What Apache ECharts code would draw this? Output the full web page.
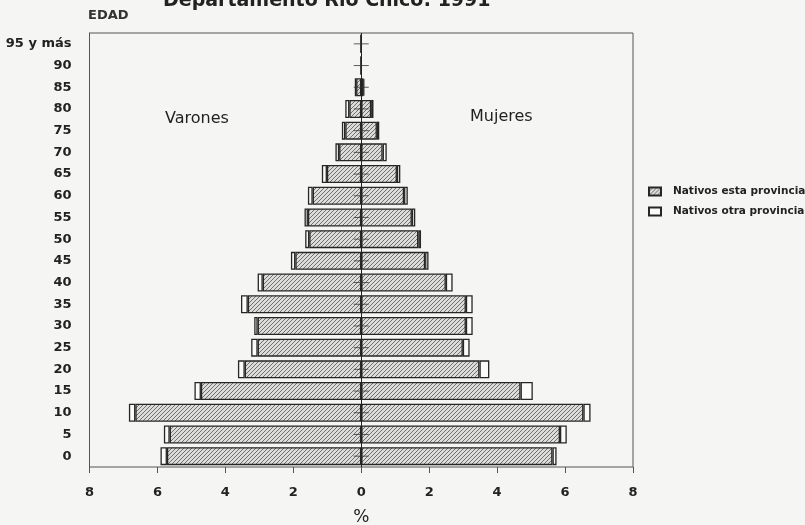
<!DOCTYPE html>
<html>
<head>
<meta charset="utf-8">
<script src="https://cdn.jsdelivr.net/npm/echarts@6/dist/echarts.min.js"></script>
<style>
  html, body { margin: 0; padding: 0; background: #f5f5f3; }
  #piramide { width: 805px; height: 525px; }
</style>
</head>
<body>
<div id="piramide"></div>
<script>
// grupos de edad (de abajo hacia arriba)
var edad = ['0', '5', '10', '15', '20', '25', '30', '35', '40', '45',
            '50', '55', '60', '65', '70', '75', '80', '85', '90', '95 y más'];
var varonesEsta = [5.72, 5.64, 6.65, 4.72, 3.43, 3.05, 3.05, 3.34, 2.90, 1.94,
                   1.53, 1.57, 1.43, 1.01, 0.65, 0.47, 0.35, 0.15, 0, 0];
var varonesOtra = [0.19, 0.17, 0.19, 0.19, 0.20, 0.19, 0.10, 0.20, 0.15, 0.13,
                   0.12, 0.10, 0.14, 0.15, 0.11, 0.10, 0.12, 0.04, 0, 0];
var mujeresEsta = [5.63, 5.85, 6.54, 4.69, 3.48, 2.99, 3.08, 3.08, 2.49, 1.88,
                   1.68, 1.49, 1.26, 1.05, 0.63, 0.46, 0.29, 0.06, 0, 0];
var mujeresOtra = [0.12, 0.20, 0.21, 0.36, 0.29, 0.20, 0.20, 0.20, 0.20, 0.10,
                   0.08, 0.10, 0.11, 0.10, 0.12, 0.07, 0.07, 0.03, 0, 0];

(function(){

    // rayado diagonal para "Nativos esta provincia"
    var c = document.createElement('canvas');
    c.width = 4; c.height = 4;
    var ctx = c.getContext('2d');
    ctx.fillStyle = '#dcdcda';
    ctx.fillRect(0, 0, 4, 4);
    ctx.strokeStyle = '#707070';
    ctx.lineWidth = 1;
    ctx.beginPath();
    ctx.moveTo(0, 4); ctx.lineTo(4, 0);
    ctx.moveTo(-1, 1); ctx.lineTo(1, -1);
    ctx.moveTo(3, 5); ctx.lineTo(5, 3);
    ctx.stroke();
    var rayado = { image: c, repeat: 'repeat' };

    var font = '"DejaVu Sans", Verdana, sans-serif';
    var borde = { borderColor: '#262626', borderWidth: 1.3 };

    var myChart = echarts.init(document.getElementById('piramide'));

    option = {
        backgroundColor: '#f5f5f3',
        textStyle: { fontFamily: font },
        animation: false,
        legend: {
            orient: 'vertical',
            left: 643,
            top: 181,
            icon: 'rect',
            itemWidth: 12,
            itemHeight: 8,
            itemGap: 9,
            textStyle: { fontSize: 10.5, fontWeight: 'bold', color: '#222', padding: [0, 0, 0, 7] },
            data: ['Nativos esta provincia', 'Nativos otra provincia']
        },
        grid: {
            left: 89.5,
            right: 172,
            top: 33,
            bottom: 58,
            outerBoundsMode: 'none',
            show: true,
            borderColor: '#555',
            borderWidth: 1
        },
        graphic: [
            { type: 'text', left: 163, top: -8,
              style: { text: 'Departamento Río Chico: 1991', font: 'bold 19px ' + font, fill: '#222' } },
            { type: 'text', left: 88, top: 9,
              style: { text: 'EDAD', font: 'bold 13px ' + font, fill: '#333' } },
            { type: 'text', left: 165, top: 111,
              style: { text: 'Varones', font: '16px ' + font, fill: '#222' } },
            { type: 'text', left: 470, top: 109,
              style: { text: 'Mujeres', font: '16px ' + font, fill: '#222' } }
        ],
        xAxis: {
            type: 'value',
            min: -8,
            max: 8,
            interval: 2,
            name: '%',
            nameLocation: 'middle',
            nameGap: 42,
            nameTextStyle: { fontSize: 17, color: '#222' },
            axisLine: { onZero: false, lineStyle: { color: '#555' } },
            axisTick: { show: true, length: 6, lineStyle: { color: '#555' } },
            splitLine: { show: false },
            axisLabel: {
                margin: 19,
                fontSize: 13,
                fontWeight: 'bold',
                color: '#222',
                formatter: function (v) { return Math.abs(v); }
            }
        },
        yAxis: {
            type: 'category',
            data: edad,
            axisLine: { onZero: false, lineStyle: { color: '#555' } },
            axisTick: { show: false },
            axisLabel: { margin: 18, fontSize: 13, fontWeight: 'bold', color: '#222' }
        },
        series: [
            {
                name: 'Nativos esta provincia',
                type: 'bar',
                stack: 'varones',
                barCategoryGap: '17%',
                barGap: '-100%',
                itemStyle: Object.assign({ color: rayado }, borde),
                data: varonesEsta.map(function (v) { return -v; }),
                markLine: {
                    silent: true,
                    symbol: 'none',
                    label: { show: false },
                    lineStyle: { color: '#222', type: 'solid', width: 1 },
                    data: [{ xAxis: 0 }]
                }
            },
            {
                name: 'Nativos otra provincia',
                type: 'bar',
                stack: 'varones',
                barCategoryGap: '17%',
                barGap: '-100%',
                itemStyle: Object.assign({ color: '#fbfbfa' }, borde),
                data: varonesOtra.map(function (v) { return -v; })
            },
            {
                name: 'Nativos esta provincia',
                type: 'bar',
                stack: 'mujeres',
                barCategoryGap: '17%',
                barGap: '-100%',
                itemStyle: Object.assign({ color: rayado }, borde),
                data: mujeresEsta
            },
            {
                name: 'Nativos otra provincia',
                type: 'bar',
                stack: 'mujeres',
                barCategoryGap: '17%',
                barGap: '-100%',
                itemStyle: Object.assign({ color: '#fbfbfa' }, borde),
                data: mujeresOtra
            },
            {
                // marcas cruzadas sobre el eje central
                type: 'scatter',
                silent: true,
                symbol: 'rect',
                symbolSize: [15, 1],
                itemStyle: { color: '#333' },
                z: 5,
                data: edad.map(function (e) { return [0, e]; })
            }
        ]
    };

    myChart.setOption(option);
})();
</script>
</body>
</html>
